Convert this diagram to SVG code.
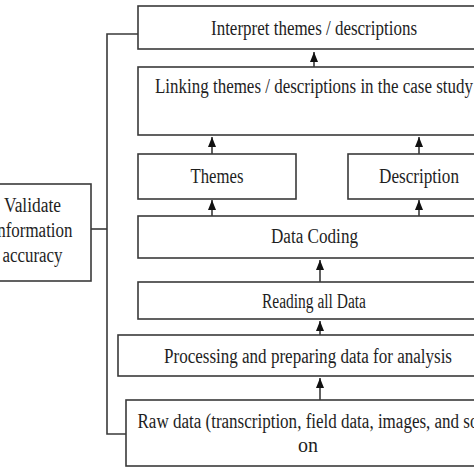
<svg xmlns="http://www.w3.org/2000/svg" width="474" height="474" viewBox="0 0 474 474">
<style>
.box{fill:#fff;stroke:#3a3a3a;stroke-width:1.6}
.t{font-family:"Liberation Serif","Times New Roman",serif;font-size:20px;fill:#1e1e1e;text-anchor:middle}
.c{fill:none;stroke:#3a3a3a;stroke-width:1.6}
</style>
<defs>
<marker id="ah" viewBox="0 0 10 8" refX="10" refY="4" markerWidth="10" markerHeight="8" markerUnits="userSpaceOnUse" orient="auto">
<path d="M0,0 L10,4 L0,8 Z" fill="#111"/>
</marker>
</defs>
<rect width="474" height="474" fill="#fff"/>
<g id="connectors">
<line class="c" x1="314" y1="67" x2="314" y2="52" marker-end="url(#ah)"/>
<line class="c" x1="212" y1="154" x2="212" y2="137" marker-end="url(#ah)"/>
<line class="c" x1="419" y1="154" x2="419" y2="137" marker-end="url(#ah)"/>
<line class="c" x1="212" y1="216" x2="212" y2="200" marker-end="url(#ah)"/>
<line class="c" x1="419" y1="216" x2="419" y2="200" marker-end="url(#ah)"/>
<line class="c" x1="320" y1="282" x2="320" y2="260" marker-end="url(#ah)"/>
<line class="c" x1="320" y1="335" x2="320" y2="321" marker-end="url(#ah)"/>
<line class="c" x1="320" y1="400" x2="320" y2="378" marker-end="url(#ah)"/>
<polyline class="c" points="138,34 107,34 107,434 126,434"/>
<line class="c" x1="91" y1="229" x2="107" y2="229"/>
</g>
<g id="interpret">
<rect class="box" x="138" y="6" width="360" height="43"/>
<text class="t" x="314" y="35" textLength="206" lengthAdjust="spacingAndGlyphs">Interpret themes / descriptions</text>
</g>
<g id="linking">
<rect class="box" x="138" y="67" width="360" height="68"/>
<text class="t" x="314" y="93" textLength="318" lengthAdjust="spacingAndGlyphs">Linking themes / descriptions in the case study</text>
</g>
<g id="themes">
<rect class="box" x="138" y="154" width="158" height="45"/>
<text class="t" x="217" y="183" textLength="53" lengthAdjust="spacingAndGlyphs">Themes</text>
</g>
<g id="description">
<rect class="box" x="348" y="154" width="150" height="45"/>
<text class="t" x="419" y="183" textLength="80" lengthAdjust="spacingAndGlyphs">Description</text>
</g>
<g id="data-coding">
<rect class="box" x="138" y="216" width="360" height="42"/>
<text class="t" x="314.5" y="243" textLength="87" lengthAdjust="spacingAndGlyphs">Data Coding</text>
</g>
<g id="reading">
<rect class="box" x="138" y="282" width="360" height="37"/>
<text class="t" x="314" y="308" font-size="19" textLength="104" lengthAdjust="spacingAndGlyphs">Reading all Data</text>
</g>
<g id="processing">
<rect class="box" x="118" y="335" width="380" height="41"/>
<text class="t" x="308" y="363" textLength="288" lengthAdjust="spacingAndGlyphs">Processing and preparing data for analysis</text>
</g>
<g id="raw-data">
<rect class="box" x="126" y="400" width="372" height="66"/>
<text class="t" x="308" y="428" textLength="341" lengthAdjust="spacingAndGlyphs">Raw data (transcription, field data, images, and so</text>
<text class="t" x="308" y="452" textLength="20" lengthAdjust="spacingAndGlyphs">on</text>
</g>
<g id="validate">
<rect class="box" x="-10" y="184" width="101" height="97"/>
<text class="t" x="32.5" y="212" textLength="57" lengthAdjust="spacingAndGlyphs">Validate</text>
<text class="t" x="32.5" y="237" textLength="80" lengthAdjust="spacingAndGlyphs">information</text>
<text class="t" x="32.5" y="262" textLength="60" lengthAdjust="spacingAndGlyphs">accuracy</text>
</g>
</svg>
